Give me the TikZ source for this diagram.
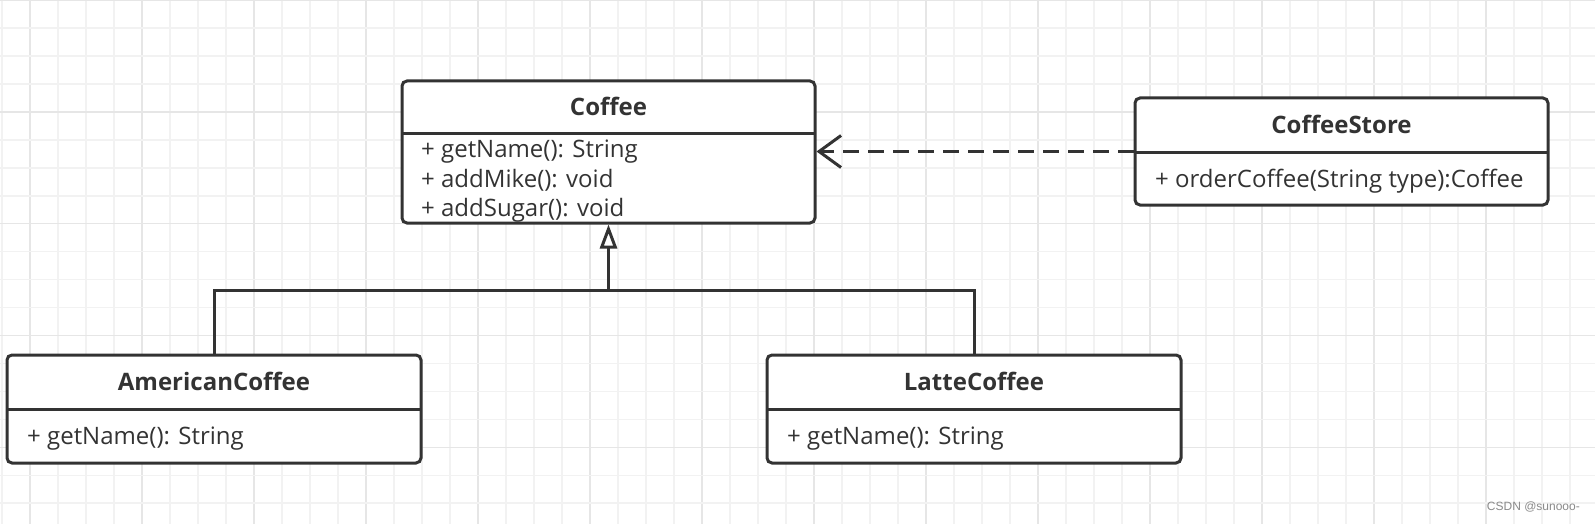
\documentclass[tikz,border=0pt]{standalone}
\usepackage{fontspec}
\setmainfont{Open Sans}
\newfontfamily\wmfont{Liberation Sans}
\usetikzlibrary{arrows.meta}
\definecolor{ink}{HTML}{333333}
\definecolor{gridminor}{HTML}{F2F2F2}
\definecolor{gridmajor}{HTML}{E6E6E6}
\definecolor{wm}{HTML}{8A8A8A}
\tikzset{
  classbox/.style={draw=ink, line width=3pt, rounded corners=5pt, fill=white, inner sep=0pt},
  sepline/.style={draw=ink, line width=3pt},
  titletext/.style={text=ink, font=\fontsize{24}{28}\selectfont\bfseries, anchor=mid, inner sep=0pt},
  membertext/.style={text=ink, font=\fontsize{24}{28}\selectfont, anchor=mid west, inner sep=0pt},
  link/.style={draw=ink, line width=3pt},
  genarrow/.style={link, -{Triangle[open, length=24pt, width=17pt, line width=3pt]}},
  deparrow/.style={link, dash pattern=on 16pt off 9pt, -{Straight Barb[length=22pt, width=32pt, line width=3pt]}},
}
\begin{document}
\begin{tikzpicture}[x=1pt, y=-1pt]
\useasboundingbox (0,0) rectangle (1595,524);
\fill[white] (0,0) rectangle (1595,524);
% grid
\foreach \n in {0,...,56} {
  \pgfmathsetmacro{\gx}{1.7+28*\n}
  \pgfmathtruncatemacro{\r}{mod(\n,4)}
  \ifnum\r=1
    \draw[gridmajor, line width=1.6pt] (\gx,0) -- (\gx,524);
  \else
    \draw[gridminor, line width=1.6pt] (\gx,0) -- (\gx,524);
  \fi
}
\foreach \m in {0,...,18} {
  \pgfmathsetmacro{\gy}{27.96*\m}
  \pgfmathtruncatemacro{\r}{mod(\m,4)}
  \ifnum\r=0
    \draw[gridmajor, line width=1.6pt] (0,\gy) -- (1595,\gy);
  \else
    \draw[gridminor, line width=1.6pt] (0,\gy) -- (1595,\gy);
  \fi
}

% Coffee
\node[classbox, minimum width=413pt, minimum height=142pt] (coffee) at (608.5,152) {};
\draw[sepline] (402,134) -- (815,134);
\node[titletext] (coffeeT) at (608.5,113) {Coffee};
\node[membertext] (coffeeM1) at (421,155) {+ getName(): String};
\node[membertext] (coffeeM2) at (421,184.5) {+ addMike(): void};
\node[membertext] (coffeeM3) at (421,213.5) {+ addSugar(): void};

% CoffeeStore
\node[classbox, minimum width=413pt, minimum height=107pt] (store) at (1341.5,151.5) {};
\draw[sepline] (1135,152) -- (1548,152);
\node[titletext] (storeT) at (1341.5,131) {CoffeeStore};
\node[membertext] (storeM1) at (1155,185) {+ orderCoffee(String type):Coffee};

% AmericanCoffee
\node[classbox, minimum width=414pt, minimum height=108pt] (american) at (214,409) {};
\draw[sepline] (7,409) -- (421,409);
\node[titletext] (americanT) at (214,388) {AmericanCoffee};
\node[membertext] (americanM1) at (27,442) {+ getName(): String};

% LatteCoffee
\node[classbox, minimum width=414pt, minimum height=108pt] (latte) at (974,409) {};
\draw[sepline] (767,409) -- (1181,409);
\node[titletext] (latteT) at (974,388) {LatteCoffee};
\node[membertext] (latteM1) at (787,442) {+ getName(): String};

% generalization
\coordinate (junction) at (608.5,290);
\draw[link] (american.north) |- (junction) -| (latte.north);
\draw[genarrow] (junction) -- (coffee.south);

% dependency
\draw[deparrow] (store.west) -- (store.west -| coffee.east);

% watermark
\node[text=wm, font=\wmfont\fontsize{12}{14}\selectfont, anchor=mid east, inner sep=0pt] (wmark) at (1580,508) {CSDN @sunooo-};
\end{tikzpicture}
\end{document}
